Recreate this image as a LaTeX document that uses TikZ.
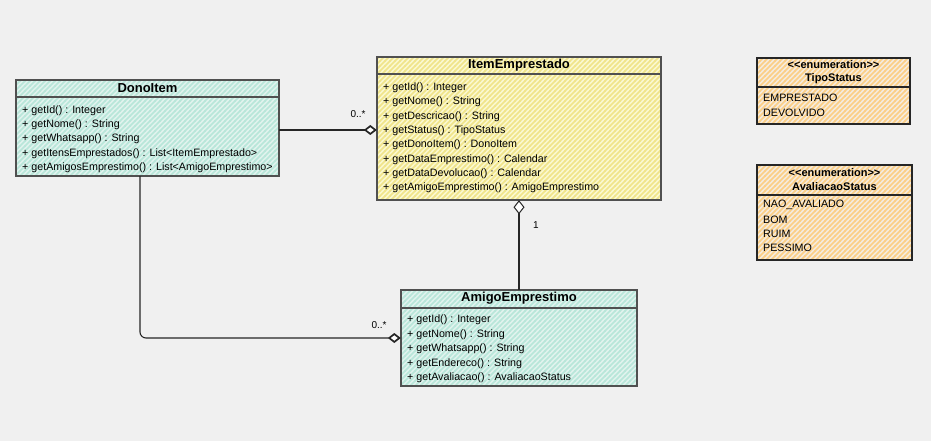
\documentclass[tikz,border=0pt]{standalone}
\usepackage{fontspec}
\setmainfont{Liberation Sans}
\usetikzlibrary{arrows.meta,patterns,calc}
\pgfdeclarepatternformonly{hatchne}{\pgfqpoint{-1pt}{-1pt}}{\pgfqpoint{6pt}{6pt}}{\pgfqpoint{5pt}{5pt}}{\pgfsetlinewidth{1.5pt}\pgfpathmoveto{\pgfqpoint{-0.5pt}{-0.5pt}}\pgfpathlineto{\pgfqpoint{5.5pt}{5.5pt}}\pgfusepath{stroke}}
\definecolor{bg}{HTML}{F0F0F0}
\definecolor{tealbase}{HTML}{E0F3EE}
\definecolor{tealstripe}{HTML}{B8E6D9}
\definecolor{yelbase}{HTML}{FBF8D0}
\definecolor{yelstripe}{HTML}{F0E48A}
\definecolor{orbase}{HTML}{F5EBDD}
\definecolor{orstripe}{HTML}{FBCF86}
\definecolor{boxline}{HTML}{505050}
\tikzset{
  classbox/.style={rectangle, inner sep=0pt},
  tealbox/.style={classbox, fill=tealbase, postaction={pattern=hatchne, pattern color=tealstripe}, postaction={draw=boxline, line width=1.1pt}},
  yelbox/.style={classbox, fill=yelbase, postaction={pattern=hatchne, pattern color=yelstripe}, postaction={draw=boxline, line width=1.1pt}},
  orbox/.style={classbox, fill=orbase, postaction={pattern=hatchne, pattern color=orstripe}, postaction={draw=black!85, line width=1.1pt}},
  sepline/.style={draw=boxline, line width=1.1pt},
  member/.style={anchor=west, inner sep=0pt, font=\fontsize{10.7}{12}\selectfont},
  title/.style={inner sep=0pt, font=\fontsize{13}{15}\selectfont\bfseries},
  stereo/.style={inner sep=0pt, font=\fontsize{11}{13}\selectfont\bfseries},
  mult/.style={inner sep=0pt, font=\fontsize{10}{12}\selectfont},
  conn/.style={draw=black!85, line width=1.1pt},
  agg/.style={conn, {Diamond[fill=white, length=13pt, width=10pt, line width=1.7pt]}-},
  aggthin/.style={conn, {Diamond[fill=white, length=14pt, width=11pt, line width=1pt]}-},
}
\begin{document}
\begin{tikzpicture}[x=1pt,y=-1pt]
\fill[bg] (0,0) rectangle (931,441);
\useasboundingbox (0,0) rectangle (931,441);

% DonoItem
\node[tealbox, minimum width=263pt, minimum height=96pt] (dono) at (147.5,128) {};
\draw[sepline] (16,97) -- (279,97);
\node[title] (donot) at (147.5,88.5) {DonoItem};
\node[member] (d1) at (22,110.5) {+ getId() : Integer};
\node[member] (d2) at (22,124.5) {+ getNome() : String};
\node[member] (d3) at (22,139) {+ getWhatsapp() : String};
\node[member] (d4) at (22,153.5) {+ getItensEmprestados() : List<ItemEmprestado>};
\node[member] (d5) at (22,167.5) {+ getAmigosEmprestimo() : List<AmigoEmprestimo>};

% ItemEmprestado
\node[yelbox, minimum width=284pt, minimum height=143pt] (item) at (519,128.5) {};
\draw[sepline] (377,74) -- (661,74);
\node[title] (itemt) at (519,65.5) {ItemEmprestado};
\node[member] (i1) at (383,87.5) {+ getId() : Integer};
\node[member] (i2) at (383,102) {+ getNome() : String};
\node[member] (i3) at (383,116.5) {+ getDescricao() : String};
\node[member] (i4) at (383,130.5) {+ getStatus() : TipoStatus};
\node[member] (i5) at (383,145) {+ getDonoItem() : DonoItem};
\node[member] (i6) at (383,159.5) {+ getDataEmprestimo() : Calendar};
\node[member] (i7) at (383,173.5) {+ getDataDevolucao() : Calendar};
\node[member] (i8) at (383,188) {+ getAmigoEmprestimo() : AmigoEmprestimo};

% AmigoEmprestimo
\node[tealbox, minimum width=236pt, minimum height=96pt] (amigo) at (519,338) {};
\draw[sepline] (401,308) -- (637,308);
\node[title] (amigot) at (519,298.5) {AmigoEmprestimo};
\node[member] (a1) at (407,319.5) {+ getId() : Integer};
\node[member] (a2) at (407,334.5) {+ getNome() : String};
\node[member] (a3) at (407,348.5) {+ getWhatsapp() : String};
\node[member] (a4) at (407,363.5) {+ getEndereco() : String};
\node[member] (a5) at (407,377.5) {+ getAvaliacao() : AvaliacaoStatus};

% TipoStatus
\node[orbox, minimum width=153pt, minimum height=66pt] (tipo) at (833.5,91) {};
\draw[sepline, draw=black!85] (757,87) -- (910,87);
\node[stereo] (tipos) at (833.5,65) {<{}<enumeration>{}>};
\node[stereo] (tipot) at (833.5,79) {TipoStatus};
\node[member] (t1) at (763,98) {EMPRESTADO};
\node[member] (t2) at (763,112.5) {DEVOLVIDO};

% AvaliacaoStatus
\node[orbox, minimum width=155pt, minimum height=95pt] (aval) at (834.5,212.5) {};
\draw[sepline, draw=black!85] (757,195) -- (912,195);
\node[stereo] (avals) at (834.5,172.5) {<{}<enumeration>{}>};
\node[stereo] (avalt) at (834.5,187) {AvaliacaoStatus};
\node[member] (v1) at (763,205) {NAO\_AVALIADO};
\node[member] (v2) at (763,219.5) {BOM};
\node[member] (v3) at (763,234) {RUIM};
\node[member] (v4) at (763,248) {PESSIMO};

% connectors
\coordinate (donoR) at ($(dono.east)+(0,2)$);
\draw[agg] (donoR -| item.west) -- (donoR);
\node[mult] (m1) at (358,114) {0..*};

\coordinate (donoB) at ($(dono.south)+(-7.5,0)$);
\draw[agg, rounded corners=6pt] (amigo.west) -| (donoB);
\node[mult] (m2) at (379,325) {0..*};

\draw[aggthin] (item.south) -- (amigo.north);
\node[mult] (m3) at (536,225) {1};
\end{tikzpicture}
\end{document}
